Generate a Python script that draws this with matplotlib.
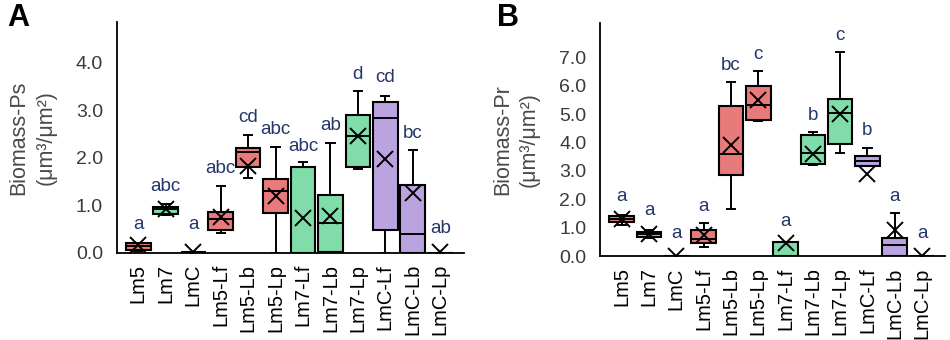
import matplotlib
matplotlib.use("Agg")
import matplotlib.pyplot as plt

plt.rcParams['font.family'] = ['Liberation Sans', 'DejaVu Sans']

groups = ["Lm5", "Lm7", "LmC", "Lm5-Lf", "Lm5-Lb", "Lm5-Lp",
          "Lm7-Lf", "Lm7-Lb", "Lm7-Lp", "LmC-Lf", "LmC-Lb", "LmC-Lp"]
group_colors = ["#E87A7C", "#80DCA8", "#80DCA8", "#E87A7C", "#E87A7C", "#E87A7C",
                "#80DCA8", "#80DCA8", "#80DCA8", "#BBA3E0", "#BBA3E0", "#BBA3E0"]

# Panel A: Biomass-Ps
ps_whislo = [0.05, 0.80, 0.00, 0.43, 1.57, 0.00, 0.00, 0.00, 1.77, 0.00, 0.00, 0.00]
ps_q1     = [0.07, 0.83, 0.01, 0.48, 1.80, 0.85, 0.00, 0.02, 1.80, 0.49, 0.00, 0.00]
ps_med    = [0.15, 0.92, 0.02, 0.71, 2.13, 1.30, 0.00, 0.63, 2.47, 2.85, 0.39, 0.00]
ps_q3     = [0.20, 0.97, 0.03, 0.87, 2.20, 1.56, 1.80, 1.23, 2.90, 3.17, 1.44, 0.00]
ps_whishi = [0.22, 1.03, 0.03, 1.41, 2.49, 2.24, 1.91, 2.31, 3.42, 3.31, 2.17, 0.00]
ps_mean   = [0.16, 0.93, 0.03, 0.75, 1.84, 1.20, 0.73, 0.77, 2.47, 1.97, 1.27, 0.02]
ps_letters = ["a", "abc", "a", "abc", "cd", "abc", "abc", "ab", "d", "cd", "bc", "ab"]
ps_letter_y = [0.60, 1.39, 0.60, 1.78, 2.86, 2.59, 2.24, 2.68, 3.75, 3.70, 2.52, 0.51]

# Panel B: Biomass-Pr
pr_whislo = [1.09, 0.64, 0.00, 0.33, 1.66, 4.76, 0.00, 3.19, 3.62, 3.18, 0.00, 0.00]
pr_q1     = [1.21, 0.68, 0.00, 0.47, 2.84, 4.80, 0.00, 3.25, 3.95, 3.18, 0.00, 0.00]
pr_med    = [1.31, 0.78, 0.00, 0.61, 3.59, 5.32, 0.00, 3.62, 5.02, 3.33, 0.39, 0.00]
pr_q3     = [1.41, 0.86, 0.00, 0.92, 5.27, 6.00, 0.49, 4.25, 5.54, 3.53, 0.62, 0.00]
pr_whishi = [1.45, 0.90, 0.00, 1.18, 6.12, 6.50, 0.49, 4.36, 7.18, 3.80, 1.50, 0.00]
pr_mean   = [1.30, 0.78, 0.00, 0.74, 3.92, 5.48, 0.45, 3.60, 5.01, 2.89, 0.92, 0.00]
pr_letters = ["a", "a", "a", "a", "bc", "c", "a", "b", "c", "b", "a", "a"]
pr_letter_y = [2.09, 1.62, 0.80, 1.76, 6.70, 7.10, 1.21, 4.94, 7.76, 4.41, 2.09, 0.80]

LETTER_COLOR = "#24366A"
TICK_COLOR = "#3A3A3A"

fig = plt.figure(figsize=(9.5, 3.4), dpi=100)
axA = fig.add_axes([0.123, 0.256, 0.365, 0.679])
axB = fig.add_axes([0.632, 0.247, 0.363, 0.685])


def draw(ax, whislo, q1, med, q3, whishi, mean, letters, letter_y, ymax, yticks, ylabel):
    stats = []
    for i in range(len(groups)):
        stats.append(dict(label=groups[i], whislo=whislo[i], q1=q1[i], med=med[i],
                          q3=q3[i], whishi=whishi[i], mean=mean[i], fliers=[]))
    pos = list(range(len(groups)))
    bp = ax.bxp(stats, positions=pos, widths=0.9, patch_artist=True, showmeans=True,
                showfliers=False,
                boxprops=dict(linewidth=1.5, edgecolor="black"),
                medianprops=dict(color="black", linewidth=1.4),
                whiskerprops=dict(color="black", linewidth=1.4),
                capprops=dict(color="black", linewidth=1.4),
                capwidths=0.3,
                meanprops=dict(marker="x", markeredgecolor="black", markersize=12,
                               markeredgewidth=1.4))
    for patch, c in zip(bp["boxes"], group_colors):
        patch.set_facecolor(c)
    for i, (t, y) in enumerate(zip(letters, letter_y)):
        ax.text(pos[i], y, t, ha="center", va="center", fontsize=13.5, color=LETTER_COLOR)
    ax.set_xlim(-0.78, len(groups) - 1 + 0.85)
    ax.set_ylim(0, ymax)
    ax.set_yticks(yticks)
    ax.set_yticklabels([f"{v:.1f}" for v in yticks], fontsize=14, color=TICK_COLOR)
    ax.set_xticks(pos)
    ax.set_xticklabels(groups, rotation=90, fontsize=14.5, color="black")
    ax.tick_params(axis="y", length=0, pad=10)
    ax.tick_params(axis="x", length=0, pad=8)
    for s in ["top", "right"]:
        ax.spines[s].set_visible(False)
    for s in ["left", "bottom"]:
        ax.spines[s].set_linewidth(1.3)
    ax.set_ylabel(ylabel, fontsize=15.5, color="#4A4A4A", labelpad=14, linespacing=1.35)


draw(axA, ps_whislo, ps_q1, ps_med, ps_q3, ps_whishi, ps_mean, ps_letters, ps_letter_y,
     4.86, [0.0, 1.0, 2.0, 3.0, 4.0], "Biomass-Ps\n(μm³/μm²)")
draw(axB, pr_whislo, pr_q1, pr_med, pr_q3, pr_whishi, pr_mean, pr_letters, pr_letter_y,
     8.2, [0.0, 1.0, 2.0, 3.0, 4.0, 5.0, 6.0, 7.0], "Biomass-Pr\n(μm³/μm²)")

fig.text(0.008, 0.99, "A", fontsize=22, fontweight="bold", va="top", ha="left")
fig.text(0.523, 0.99, "B", fontsize=22, fontweight="bold", va="top", ha="left")

fig.savefig("out.png", dpi=100)
